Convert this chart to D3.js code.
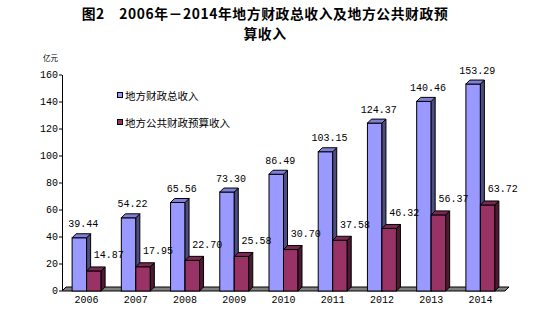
<!DOCTYPE html>
<html><head><meta charset="utf-8">
<script src="https://cdn.jsdelivr.net/npm/d3@7"></script>
<style>
html,body{margin:0;padding:0;background:#fff;}
svg{display:block;}
</style></head>
<body>
<script>
const years = ["2006","2007","2008","2009","2010","2011","2012","2013","2014"];
const totalRevenue = [39.44,54.22,65.56,73.30,86.49,103.15,124.37,140.46,153.29];
const budgetRevenue = [14.87,17.95,22.70,25.58,30.70,37.58,46.32,56.37,63.72];
const yTicks = [0,20,40,60,80,100,120,140,160];
const seriesNames = ["地方财政总收入","地方公共财政预算收入"];
const titleLines = ["图2　2006年－2014年地方财政总收入及地方公共财政预","算收入"];
const unitLabel = "亿元";

const W=540,H=331;
const svg=d3.select("body").append("svg").attr("width",W).attr("height",H);
const x=d3.scaleBand().domain(years).range([62,505]).padding(0);
const y=d3.scaleLinear().domain([0,160]).range([291,75]);
const bw=14.5, dx=4, dy=-4;
const mono="'Liberation Mono','DejaVu Sans Mono',monospace";
const cjk="'Noto Sans CJK SC','Noto Sans',sans-serif";

const colors=[
  {front:"#9999FF",side:"#4D4D80",top:"#8080D8"},
  {front:"#993366",side:"#4D1A33",top:"#7A2952"}
];

// title
svg.selectAll("text.title").data(titleLines).join("text").attr("class","title")
  .attr("x",265).attr("y",(d,i)=>19+i*20).attr("text-anchor","middle")
  .style("font-family",cjk).style("font-weight","bold").style("font-size","13.8px")
  .style("letter-spacing","0.6px")
  .text(d=>d);

svg.append("text").attr("x",43).attr("y",57).attr("dominant-baseline","central")
  .style("font-family",cjk).style("font-size","7.5px").text(unitLabel);

// floor
const x0=x.range()[0], x1=x.range()[1], y0=y(0);
svg.append("polygon")
  .attr("points",[[x0,y0],[x1,y0],[x1+dx,y0+dy],[x0+dx,y0+dy]].map(p=>p.join(",")).join(" "))
  .attr("fill","#808080").attr("stroke","#000").attr("stroke-width",1);

// y axis
svg.append("line").attr("x1",x0+0.5).attr("x2",x0+0.5).attr("y1",y(160)).attr("y2",y0)
  .attr("stroke","#000");
const yt=svg.selectAll("g.yt").data(yTicks).join("g").attr("transform",d=>`translate(0,${y(d)})`);
yt.append("line").attr("x1",x0-3).attr("x2",x0).attr("stroke","#000");
yt.append("text").attr("x",x0-4).attr("text-anchor","end").attr("dominant-baseline","central")
  .style("font-family",mono).style("font-size","10px").text(d=>d);

// x labels
svg.selectAll("text.xl").data(years).join("text")
  .attr("x",d=>x(d)+x.bandwidth()/2).attr("y",300).attr("text-anchor","middle")
  .attr("dominant-baseline","central").style("font-family",mono).style("font-size","10px")
  .text(d=>d);

function bar(g,xl,v,c){
  const yt=y(v), xr=xl+bw;
  g.append("rect").attr("x",xl).attr("y",yt).attr("width",bw).attr("height",y0-yt)
    .attr("fill",c.front).attr("stroke","#000").attr("stroke-width",1);
  g.append("polygon").attr("points",[[xr,yt],[xr+dx,yt+dy],[xr+dx,y0+dy],[xr,y0]].map(p=>p.join(",")).join(" "))
    .attr("fill",c.side).attr("stroke","#000").attr("stroke-width",1);
  g.append("polygon").attr("points",[[xl,yt],[xl+dx,yt+dy],[xr+dx,yt+dy],[xr,yt]].map(p=>p.join(",")).join(" "))
    .attr("fill",c.top).attr("stroke","#000").attr("stroke-width",1);
}

years.forEach((yr,i)=>{
  const c=x(yr)+x.bandwidth()/2;
  const g=svg.append("g");
  bar(g,c-bw,totalRevenue[i],colors[0]);
  bar(g,c,budgetRevenue[i],colors[1]);
});
years.forEach((yr,i)=>{
  const c=x(yr)+x.bandwidth()/2;
  svg.append("text").attr("x",c-bw/2+4).attr("y",y(totalRevenue[i])-13)
    .attr("text-anchor","middle").attr("dominant-baseline","central")
    .style("font-family",mono).style("font-size","10px").text(totalRevenue[i].toFixed(2));
  svg.append("text").attr("x",c+bw/2+15).attr("y",y(budgetRevenue[i])-15)
    .attr("text-anchor","middle").attr("dominant-baseline","central")
    .style("font-family",mono).style("font-size","10px").text(budgetRevenue[i].toFixed(2));
});

// legend
const lg=svg.selectAll("g.lg").data(seriesNames).join("g")
  .attr("transform",(d,i)=>`translate(117,${95+i*27})`);
lg.append("rect").attr("x",0.5).attr("y",-2.5).attr("width",5).attr("height",5)
  .attr("fill",(d,i)=>colors[i].front).attr("stroke","#000");
lg.append("text").attr("x",8).attr("y",0).attr("dominant-baseline","central")
  .style("font-family",cjk).style("font-size","10.5px").text(d=>d);
</script>
</body></html>
